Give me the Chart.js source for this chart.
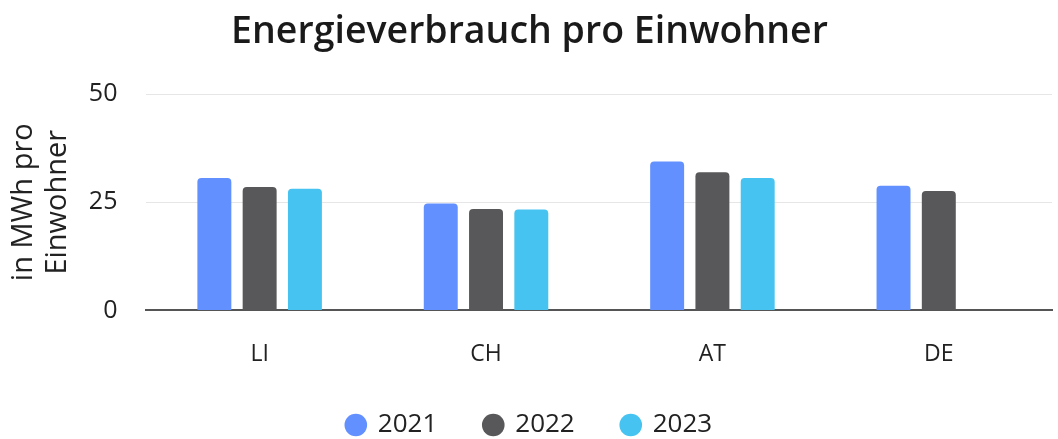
<!DOCTYPE html>
<html>
<head>
<meta charset="utf-8">
<script src="https://cdn.jsdelivr.net/npm/chart.js@4"></script>
<style>
  html, body { margin: 0; padding: 0; background: #fff; }
  #wrap { width: 1058px; height: 439px; }
</style>
</head>
<body>
<div id="wrap"><canvas id="energyChart"></canvas></div>
<script>
// Data
const countries = ['LI', 'CH', 'AT', 'DE'];
const years = ['2021', '2022', '2023'];
const values2021 = [30.6, 24.7, 34.4, 28.8];
const values2022 = [28.5, 23.4, 31.9, 27.6];
const values2023 = [28.1, 23.3, 30.6, null];
const yTicks = [0, 25, 50];
const colors = ['#6290ff', '#58585a', '#46c3f0'];

const FONT = '"Open Sans", sans-serif';

const ctx = document.getElementById('energyChart');
new Chart(ctx, {
    type: 'bar',
    data: {
        labels: countries,
        datasets: [values2021, values2022, values2023].map((vals, i) => ({
            label: years[i],
            data: vals,
            backgroundColor: colors[i],
            borderRadius: 4,
            categoryPercentage: 0.6,
            barPercentage: 0.75
        }))
    },
    options: {
        responsive: true,
        maintainAspectRatio: false,
        animation: false,
        // negative bottom padding: legend padding also adds space under the items
        layout: { padding: { left: 7, right: 6, top: 6, bottom: -9 } },
        plugins: {
            title: {
                display: true,
                text: 'Energieverbrauch pro Einwohner',
                color: '#1a1a1a',
                font: { family: FONT, size: 37.5, weight: '600' },
                padding: { top: 4, bottom: 39 }
            },
            legend: {
                position: 'bottom',
                labels: {
                    usePointStyle: true,
                    pointStyle: 'circle',
                    boxWidth: 18,
                    boxHeight: 16,
                    padding: 47,
                    color: '#222',
                    font: { family: FONT, size: 26 }
                }
            },
            tooltip: { enabled: false }
        },
        scales: {
            x: {
                grid: { display: false, drawTicks: false },
                border: { color: '#555', width: 2 },
                ticks: { color: '#222', padding: 30, font: { family: FONT, size: 23 } },
                // tick padding is counted on both sides, take the outer one back
                afterFit: axis => { axis.height -= 33; }
            },
            y: {
                min: 0,
                max: 50,
                afterBuildTicks: axis => { axis.ticks = yTicks.map(v => ({ value: v })); },
                grid: { color: '#e6e6e6', drawTicks: false },
                border: { display: false },
                ticks: { color: '#222', padding: 29, font: { family: FONT, size: 25 } },
                title: {
                    display: true,
                    text: ['in MWh pro', 'Einwohner'],
                    color: '#222',
                    font: { family: FONT, size: 29, lineHeight: 1.17 },
                    padding: { top: 0, bottom: 12 }
                },
                afterFit: axis => { axis.width -= 27; }
            }
        }
    }
});
</script>
</body>
</html>
